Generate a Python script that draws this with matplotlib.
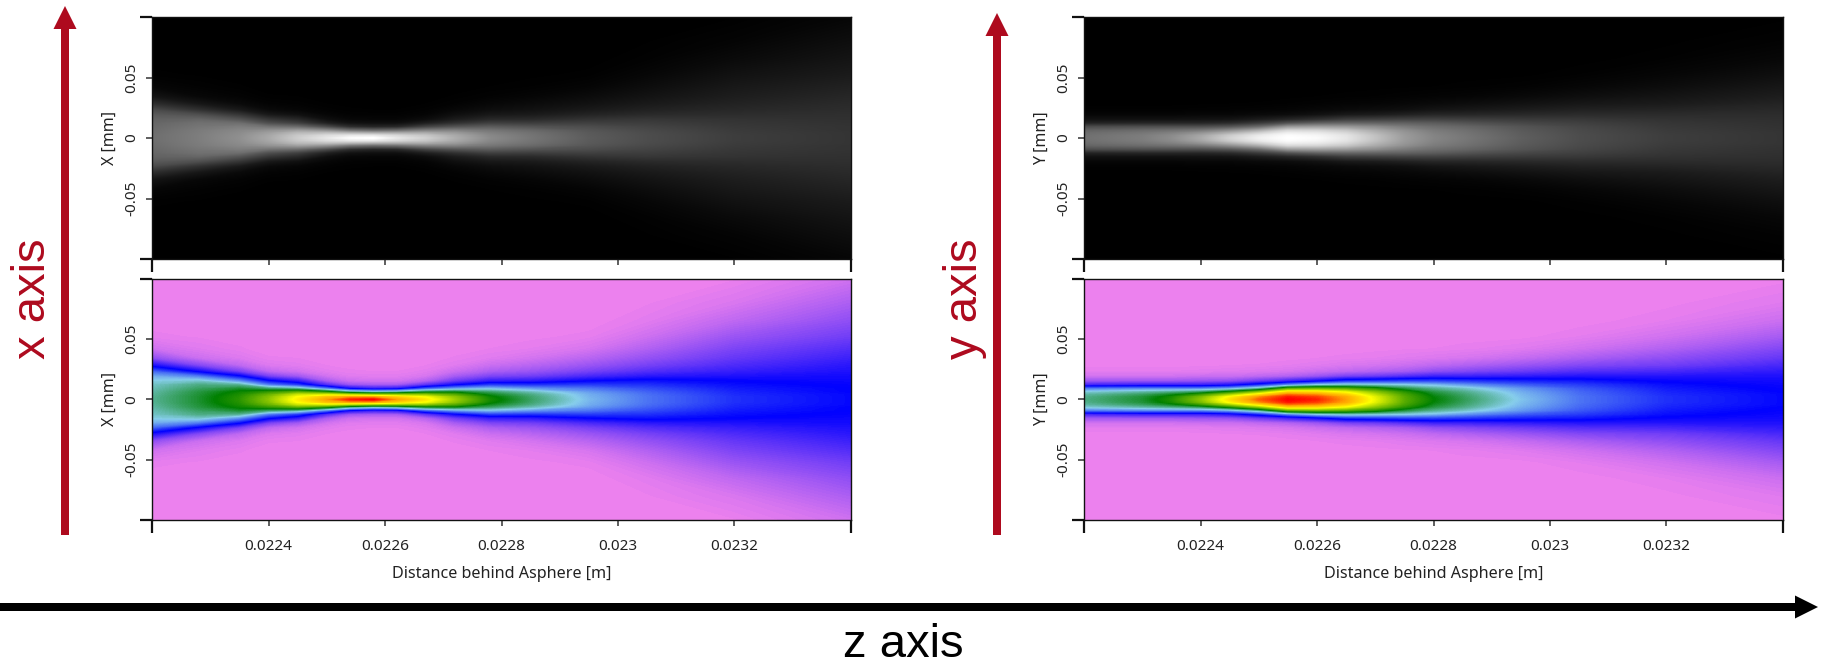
import numpy as np
import matplotlib
matplotlib.use('Agg')
import matplotlib.pyplot as plt
from matplotlib.colors import LinearSegmentedColormap

# radial offsets [mm], only one half of each panel is listed, it is mirrored below
r_vals = [0, .002, .004, .006, .009, .012, .015, .019, .023, .028, .034, .042, .052, .065, .08, .1]

# distance behind asphere [m]
x_z = [.0222, .02228, .02235, .0224, .02245, .0225, .02254, .02258, .02262,
       .02267, .02272, .02278, .02285, .02295, .02305, .0232, .0234]
# one row per z position, one value per r_vals entry
x_vals = [
    [.43, .43, .425, .42, .41, .40, .385, .35, .29, .18, .08, .025, .006, 0, 0, 0],
    [.49, .49, .485, .48, .46, .44, .40, .31, .19, .09, .03, .012, .003, 0, 0, 0],
    [.56, .555, .545, .53, .49, .43, .33, .21, .10, .04, .015, .005, 0, 0, 0, 0],
    [.66, .65, .62, .57, .45, .31, .215, .10, .04, .015, .005, 0, 0, 0, 0, 0],
    [.80, .78, .72, .62, .42, .25, .16, .065, .025, .01, .004, 0, 0, 0, 0, 0],
    [.90, .86, .74, .56, .30, .13, .06, .025, .01, .004, 0, 0, 0, 0, 0, 0],
    [.98, .90, .70, .45, .18, .07, .03, .012, .005, .002, 0, 0, 0, 0, 0, 0],
    [1.0, .90, .67, .41, .15, .06, .025, .01, .004, 0, 0, 0, 0, 0, 0, 0],
    [.90, .84, .66, .43, .16, .06, .025, .01, .004, 0, 0, 0, 0, 0, 0, 0],
    [.81, .77, .66, .50, .27, .12, .05, .02, .01, .004, 0, 0, 0, 0, 0, 0],
    [.68, .66, .60, .51, .33, .19, .11, .06, .03, .012, .005, 0, 0, 0, 0, 0],
    [.54, .53, .50, .46, .36, .25, .16, .095, .055, .03, .012, .004, 0, 0, 0, 0],
    [.46, .455, .44, .41, .33, .24, .165, .105, .07, .045, .022, .008, .002, 0, 0, 0],
    [.36, .355, .35, .335, .30, .25, .20, .14, .10, .07, .045, .02, .006, 0, 0, 0],
    [.30, .30, .295, .285, .265, .24, .215, .165, .13, .10, .075, .05, .027, .01, .003, 0],
    [.24, .24, .235, .23, .22, .21, .20, .175, .155, .135, .115, .095, .07, .04, .017, .003],
    [.205, .205, .205, .20, .20, .195, .19, .185, .175, .165, .15, .13, .105, .08, .055, .025],
]

y_z = [.0222, .0223, .02235, .0224, .02245, .0225, .02255, .0226, .02265,
       .0227, .02275, .0228, .02285, .02295, .02305, .0232, .0234]
y_vals = [
    [.44, .435, .42, .39, .30, .14, .07, .025, .008, .002, 0, 0, 0, 0, 0, 0],
    [.49, .485, .46, .42, .31, .15, .07, .025, .008, .002, 0, 0, 0, 0, 0, 0],
    [.55, .54, .50, .44, .31, .15, .07, .025, .008, .002, 0, 0, 0, 0, 0, 0],
    [.66, .64, .57, .47, .31, .15, .075, .03, .01, .003, 0, 0, 0, 0, 0, 0],
    [.82, .79, .68, .55, .34, .17, .08, .03, .012, .004, 0, 0, 0, 0, 0, 0],
    [.94, .91, .81, .67, .42, .23, .11, .04, .015, .005, 0, 0, 0, 0, 0, 0],
    [1.0, .985, .93, .84, .60, .32, .15, .05, .02, .008, .002, 0, 0, 0, 0, 0],
    [.98, .96, .91, .83, .62, .38, .19, .07, .03, .012, .004, 0, 0, 0, 0, 0],
    [.90, .89, .84, .77, .60, .40, .24, .10, .04, .018, .006, .001, 0, 0, 0, 0],
    [.76, .75, .71, .66, .55, .39, .25, .11, .05, .022, .008, .002, 0, 0, 0, 0],
    [.61, .605, .59, .56, .48, .38, .26, .13, .06, .03, .012, .003, 0, 0, 0, 0],
    [.52, .515, .50, .48, .43, .36, .26, .15, .08, .04, .016, .004, 0, 0, 0, 0],
    [.47, .465, .455, .44, .40, .33, .25, .15, .09, .05, .02, .006, .001, 0, 0, 0],
    [.37, .365, .36, .35, .33, .28, .23, .16, .11, .07, .035, .012, .002, 0, 0, 0],
    [.30, .30, .295, .29, .275, .25, .22, .17, .13, .09, .055, .025, .008, .001, 0, 0],
    [.24, .24, .235, .23, .22, .21, .195, .17, .14, .105, .08, .05, .025, .008, .002, 0],
    [.205, .205, .205, .20, .195, .19, .185, .175, .16, .14, .115, .09, .06, .03, .012, .002],
]

z_ticks = [.0224, .0226, .0228, .023, .0232]
z_labels = ['0.0224', '0.0226', '0.0228', '0.023', '0.0232']
r_ticks = [-.05, 0, .05]
r_labels = ['-0.05', '0', '0.05']

W, H = 1822, 664
RED = '#AE0A1E'
LABEL_FONT = 'Noto Sans'

false_color = LinearSegmentedColormap.from_list('false_color', [
    (0, '#EE82EE'), (.2, '#0000FF'), (.38, '#87CEEB'), (.52, '#008000'),
    (.78, '#FFFF00'), (.9, '#FFA500'), (1, '#FF0000')], N=512)


def add_panel(box, z, vals, cmap, label, show_x):
    left, top, right, bottom = box
    ax = fig.add_axes([left/W, 1-bottom/H, (right-left)/W, (bottom-top)/H])
    half = np.array(vals).T
    r = np.array(r_vals)
    rr = np.concatenate([-r[:0:-1], r])
    grid = np.vstack([half[:0:-1], half])
    ax.contourf(z, rr, grid, levels=np.linspace(0, 1, 257), cmap=cmap, vmin=0, vmax=1)

    ax.set_xlim(.0222, .0234)
    ax.set_ylim(-.1, .1)
    ax.set_xticks(z_ticks)
    ax.set_xticks([.0222, .0234], minor=True)
    ax.set_yticks(r_ticks)
    ax.set_yticks([-.1, .1], minor=True)
    ax.set_yticklabels(r_labels, rotation=90, va='center', fontsize=11, family=LABEL_FONT, color='#222222')
    ax.set_ylabel(label, fontsize=11.5, family=LABEL_FONT, color='#222222', labelpad=5)
    ax.tick_params(which='major', length=4, width=1.1, color='#333333', pad=5)
    ax.tick_params(which='minor', length=9, width=1.6, color='#111111')
    ax.tick_params(axis='x', which='major', pad=10)
    if show_x:
        ax.set_xticklabels(z_labels, fontsize=11, family=LABEL_FONT, color='#222222')
        ax.set_xlabel('Distance behind Asphere [m]', fontsize=11.6, family=LABEL_FONT, color='#222222', labelpad=8)
    else:
        ax.set_xticklabels([])
    for s in ax.spines.values():
        s.set_linewidth(1.0)
        s.set_color('#111111')
    return ax


fig = plt.figure(figsize=(W/100, H/100), dpi=100)

add_panel((152, 17, 851, 259), x_z, x_vals, 'gray', 'X [mm]', False)
add_panel((152, 279, 851, 520), x_z, x_vals, false_color, 'X [mm]', True)
add_panel((1084, 17, 1783, 259), y_z, y_vals, 'gray', 'Y [mm]', False)
add_panel((1084, 279, 1783, 520), y_z, y_vals, false_color, 'Y [mm]', True)

# annotation layer in pixel coordinates
over = fig.add_axes([0, 0, 1, 1])
over.set_xlim(0, W)
over.set_ylim(H, 0)
over.axis('off')
over.patch.set_alpha(0)
arrow = dict(width=8, length_includes_head=True, linewidth=0)
over.arrow(65, 535, 0, -529, head_width=23, head_length=23, color=RED, **arrow)
over.arrow(997, 535, 0, -522, head_width=23, head_length=23, color=RED, **arrow)
over.arrow(0, 607, 1818, 0, head_width=23, head_length=23, color='black', **arrow)

big = dict(family='Liberation Sans', fontsize=34, ha='center', va='center')
over.text(33, 299, 'x axis', rotation=90, color=RED, **big)
over.text(965, 299, 'y axis', rotation=90, color=RED, **big)
over.text(903, 645, 'z axis', color='black', **big)

fig.savefig('out.png', dpi=100)
